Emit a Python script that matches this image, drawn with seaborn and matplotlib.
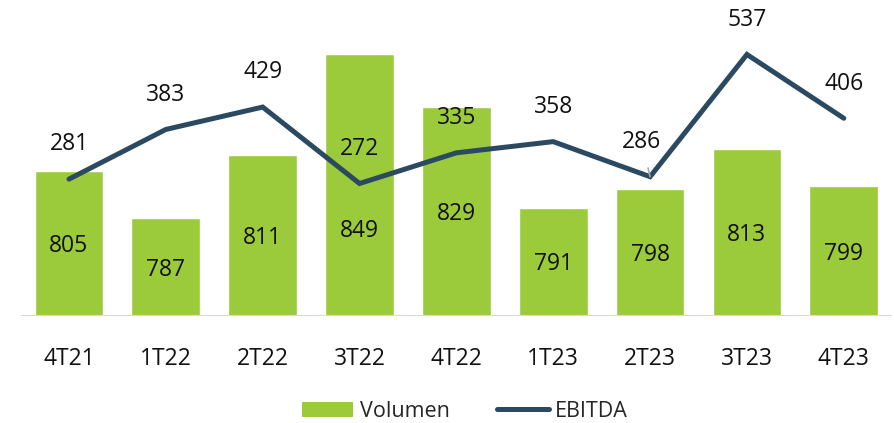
import numpy as np
import pandas as pd
import matplotlib
matplotlib.use("Agg")
import matplotlib.pyplot as plt
import seaborn as sns
from matplotlib.patches import Patch
from matplotlib.lines import Line2D

# ---- Data ----
quarters = ["4T21", "1T22", "2T22", "3T22", "4T22", "1T23", "2T23", "3T23", "4T23"]
volumen  = [805, 787, 811, 849, 829, 791, 798, 813, 799]
ebitda   = [281, 383, 429, 272, 335, 358, 286, 537, 406]

GREEN = "#9BCB3B"
NAVY  = "#2B4A62"

sns.set_theme(style="white")
plt.rcParams["font.family"] = ["Open Sans", "DejaVu Sans"]

df = pd.DataFrame({"quarter": quarters, "volumen": volumen, "ebitda": ebitda})

fig = plt.figure(figsize=(8.94, 4.23), dpi=100)
ax = fig.add_axes([0.023, 0.253, 0.975, 0.70])

sns.barplot(data=df, x="quarter", y="volumen", color=GREEN, width=0.71,
            saturation=1, ax=ax)
ax.set_ylim(750, 862)
ax.set_xlim(-0.5, len(quarters) - 0.5)

# volume labels inside bars
for i, v in enumerate(volumen):
    y = (750 + v) / 2 - 1
    if i == 3:  # keep clear of the EBITDA line
        y = 782
    ax.text(i, y, f"{v}", ha="center", va="center", fontsize=16.5, color="#111111")

# ---- EBITDA on secondary axis ----
ax2 = ax.twinx()
x_pos = np.arange(len(quarters))
sns.lineplot(x=x_pos, y=ebitda, color=NAVY, linewidth=3.6, ax=ax2,
             solid_capstyle="round", solid_joinstyle="miter")
ax2.set_ylim(0, 608)
ax2.set_xlim(-0.5, len(quarters) - 0.5)

for i, e in enumerate(ebitda):
    if quarters[i] == "2T23":
        ax2.annotate(f"{e}", xy=(i, e), xytext=(-6, 25), textcoords="offset points",
                     ha="center", va="center", fontsize=16.5, color="#111111",
                     arrowprops=dict(arrowstyle="-", color="#AAAAAA", lw=1.2,
                                     shrinkA=8, shrinkB=0))
    else:
        ax2.annotate(f"{e}", xy=(i, e), xytext=(0, 25), textcoords="offset points",
                     ha="center", va="center", fontsize=16.5, color="#111111")

# ---- Axes styling ----
for a in (ax, ax2):
    for s in a.spines.values():
        s.set_visible(False)
    a.set_ylabel("")
    a.set_xlabel("")
    a.set_yticks([])
ax.axhline(750, color="#D9D9D9", lw=1.5, zorder=5)
ax2.tick_params(axis="x", bottom=False, labelbottom=False)
ax.tick_params(axis="x", length=0, pad=22, labelsize=16.5, labelcolor="#111111")

handles = [Patch(facecolor=GREEN, edgecolor="none", label="Volumen"),
           Line2D([0], [0], color=NAVY, lw=3.6, label="EBITDA")]
fig.legend(handles=handles, loc="center", bbox_to_anchor=(0.52, 0.028),
           ncol=2, frameon=False, fontsize=15.5, handlelength=2.4,
           handleheight=0.7, columnspacing=2.2, handletextpad=0.3)

fig.savefig("out.png", dpi=100)
